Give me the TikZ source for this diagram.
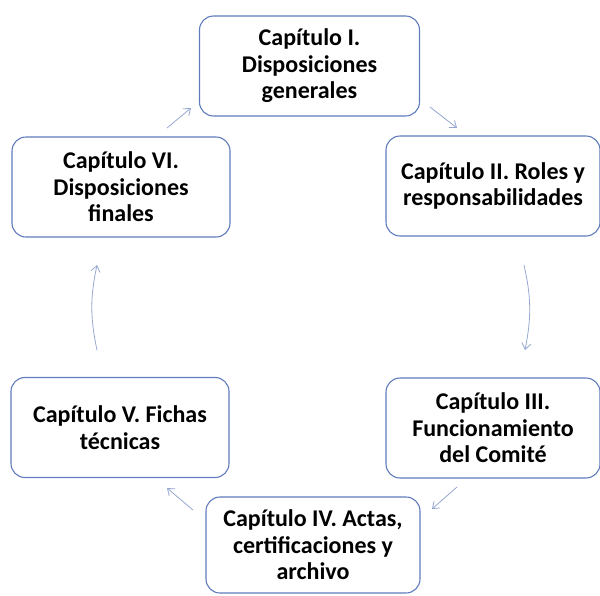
\documentclass[tikz,border=0pt]{standalone}
\usepackage{fontspec}
\setmainfont{Carlito}
\usetikzlibrary{arrows.meta}
\definecolor{boxline}{RGB}{96,124,188}
\definecolor{arrowline}{RGB}{150,168,208}
\tikzset{chapter/.style={draw=boxline, line width=1.1pt, rounded corners=14pt,
    fill=white, minimum width=214pt, minimum height=100pt, align=center,
    font=\fontsize{24}{26.5}\selectfont\bfseries, inner sep=2pt},
    cyclearrow/.style={draw=arrowline, line width=0.8pt,
    -{Straight Barb[length=6pt,width=9pt]}},
    }

\begin{document}
\begin{tikzpicture}[x=1pt,y=-1pt]
	\useasboundingbox (0,0) rectangle (600,595);
	\clip (0,0) rectangle (600,595);
	% chapters
	\node[chapter, minimum width=220pt] (cI) at (309.5,66) {Capítulo I.\\Disposiciones\\generales};
	\node[chapter] (cII) at (493,186) {Capítulo II. Roles y\\responsabilidades};
	\node[chapter] (cIII) at (493,428) {Capítulo III.\\Funcionamiento\\del Comité};
	\node[chapter, minimum height=96pt] (cIV) at (313,545) {Capítulo IV. Actas,\\certificaciones y\\archivo};
	\node[chapter, minimum width=218pt] (cV) at (120,427.5) {Capítulo V. Fichas\\técnicas};
	\node[chapter, minimum width=218pt] (cVI) at (121,187) {Capítulo VI.\\Disposiciones\\finales};
	% arrow ends
	\coordinate (aIs) at (430,107);   \coordinate (aIIe) at (457,128);
	\coordinate (aIIs) at (524,265);  \coordinate (aIIIe) at (525,350);
	\coordinate (aIIIs) at (457,487); \coordinate (aIVe) at (432,509);
	\coordinate (aIVs) at (193,510);  \coordinate (aVe) at (167,488);
	\coordinate (aVs) at (97,350);    \coordinate (aVIe) at (97,265);
	\coordinate (aVIs) at (167,128);  \coordinate (aIe) at (191,108);
	% cycle
	\draw[cyclearrow] (aIs) -- (aIIe);
	\draw[cyclearrow] (aIIs) to[bend left=12] (aIIIe);
	\draw[cyclearrow] (aIIIs) -- (aIVe);
	\draw[cyclearrow] (aIVs) -- (aVe);
	\draw[cyclearrow] (aVs) to[bend left=12] (aVIe);
	\draw[cyclearrow] (aVIs) -- (aIe);
\end{tikzpicture}
\end{document}
